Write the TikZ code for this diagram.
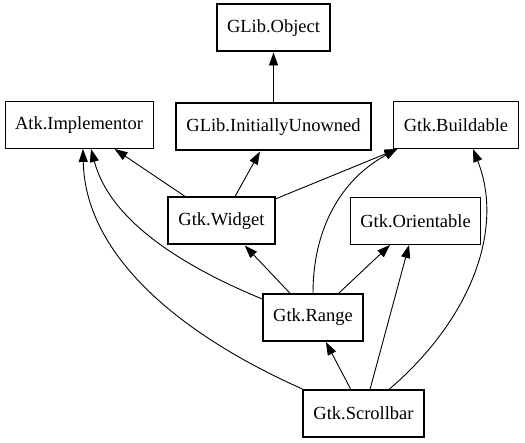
\documentclass[tikz,border=0pt]{standalone}
\usepackage{fontspec}
\setmainfont{Liberation Serif}
\usepackage{tikz}
\usetikzlibrary{positioning,arrows.meta}
\tikzstyle{cls}=[rectangle, draw=black, line width=2pt, text=black, text centered, inner xsep=10pt, minimum height=47pt, font=\fontsize{18.5}{21}\selectfont]
\tikzstyle{iface}=[cls, line width=0.9pt]
\tikzset{>={Triangle[length=13pt,width=9pt]}}

\begin{document}
\begin{tikzpicture}[x=1pt, y=-1pt, line width=0.9pt]
    \useasboundingbox (0,0) rectangle (525,443);

        \node(obj)[cls] at (273.5,28) {GLib.Object};
        \node(unowned)[cls, below=50pt of obj] {GLib.InitiallyUnowned};
        \node(impl)[iface] at (79,125) {Atk.Implementor};
        \node(buildable)[iface] at (456,125) {Gtk.Buildable};
        \node(widget)[cls] at (221.5,221) {Gtk.Widget};
        \node(orientable)[iface] at (415.5,221) {Gtk.Orientable};
        \node(range)[cls] at (313,317.5) {Gtk.Range};
        \node(scrollbar)[cls] at (363.5,413.5) {Gtk.Scrollbar};

        % straight edges
        \draw [->] (unowned) -- (obj);
        \draw [->] (widget) -- (impl);
        \draw [->] (widget) -- (unowned);
        \draw [->] (widget) -- (buildable);
        \draw [->] (range) -- (widget);
        \draw [->] (range) -- (orientable);
        \draw [->] (scrollbar) -- (range);
        \draw [->] (scrollbar) -- (orientable);

        % curved edges
        \draw [->] (range.north) .. controls (313,230) and (340,180) .. ([xshift=4pt]buildable.south west);
        \draw [->] (range.160) .. controls (180,265) and (110,220) .. ([xshift=12pt]impl.south);
        \draw [->] (scrollbar.north west) .. controls (170,330) and (85,250) .. ([xshift=4pt]impl.south);
        \draw [->] ([xshift=26pt]scrollbar.north) .. controls (470,320) and (505,230) .. ([xshift=17pt]buildable.south);

    \end{tikzpicture}
\end{document}
